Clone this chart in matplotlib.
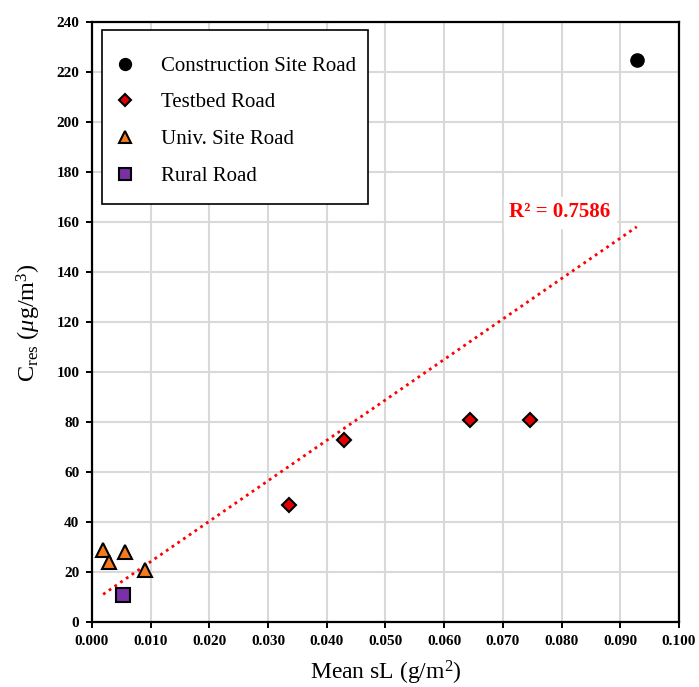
import numpy as np
import matplotlib
matplotlib.use("Agg")
import matplotlib.pyplot as plt
from matplotlib.patches import Rectangle

plt.rcParams['font.family'] = ['Liberation Serif', 'DejaVu Serif']
plt.rcParams['mathtext.fontset'] = 'custom'
plt.rcParams['mathtext.rm'] = 'Liberation Serif'
plt.rcParams['mathtext.it'] = 'Liberation Serif:italic'
plt.rcParams['mathtext.bf'] = 'Liberation Serif:bold'

# Data
construction_x = [0.0928]
construction_y = [225]
testbed_x = [0.0336, 0.0429, 0.0644, 0.0746]
testbed_y = [47, 73, 81, 81]
univ_x = [0.0019, 0.0029, 0.0057, 0.0090]
univ_y = [29, 24, 28, 21]
rural_x = [0.0053]
rural_y = [11]

x_ticks = np.arange(0, 0.1001, 0.01)
y_ticks = np.arange(0, 241, 20)

fig = plt.figure(figsize=(6.99, 6.87), dpi=100)
ax = fig.add_axes([0.1316, 0.0939, 0.8398, 0.8741])

ax.set_xlim(0, 0.1)
ax.set_ylim(0, 240)
ax.set_xticks(x_ticks)
ax.set_yticks(y_ticks)
ax.set_xticklabels([f"{v:.3f}" for v in x_ticks], fontweight='bold', fontsize=11)
ax.set_yticklabels([f"{int(v)}" for v in y_ticks], fontweight='bold', fontsize=11)
ax.grid(True, color='#d9d9d9', linewidth=1.5, zorder=0)
ax.set_axisbelow(True)
for s in ax.spines.values():
    s.set_linewidth(1.6)
    s.set_color('black')
ax.tick_params(direction='out', length=4, width=1.4, pad=5)

# Trendline from all points
all_x = np.array(construction_x + testbed_x + univ_x + rural_x)
all_y = np.array(construction_y + testbed_y + univ_y + rural_y)
m, b = np.polyfit(all_x, all_y, 1)
xl = np.array([all_x.min(), all_x.max()])
ax.plot(xl, m * xl + b, color='red', linestyle=(0, (1, 1.5)), linewidth=2, zorder=2)

ax.plot(construction_x, construction_y, 'o', color='black', markersize=9.5,
        linestyle='none', label='Construction Site Road', zorder=3)
ax.plot(testbed_x, testbed_y, 'D', markerfacecolor='#e00000', markeredgecolor='black',
        markeredgewidth=1.5, markersize=7, linestyle='none', label='Testbed Road', zorder=3)
ax.plot(univ_x, univ_y, '^', markerfacecolor='#f47a1f', markeredgecolor='black',
        markeredgewidth=1.5, markersize=10, linestyle='none', label='Univ. Site Road', zorder=3)
ax.plot(rural_x, rural_y, 's', markerfacecolor='#7b2fa8', markeredgecolor='black',
        markeredgewidth=1.5, markersize=10, linestyle='none', label='Rural Road', zorder=3)

ax.text(0.0797, 164, 'R² = 0.7586', color='red', fontweight='bold', fontsize=15,
        ha='center', va='center', backgroundcolor='white', zorder=4)

# Legend frame drawn separately for exact placement
frame = Rectangle((0.017, 0.697), 0.453, 0.290, transform=ax.transAxes,
                  facecolor='white', edgecolor='black', linewidth=1.2, zorder=4.5)
ax.add_patch(frame)
leg = ax.legend(loc='upper left', bbox_to_anchor=(0.046, 0.943), borderaxespad=0,
                borderpad=0, fontsize=15, frameon=False, handlelength=0.6,
                labelspacing=0.82, handletextpad=1.4, markerscale=0.9)
leg.set_zorder(5)

ax.set_xlabel('Mean sL (g/m$^2$)', fontsize=17, labelpad=8)
ax.set_ylabel(r'C$_{\rm res}$ ($\mu$g/m$^3$)', fontsize=17.5, labelpad=10)

fig.savefig('out.png', dpi=100)
